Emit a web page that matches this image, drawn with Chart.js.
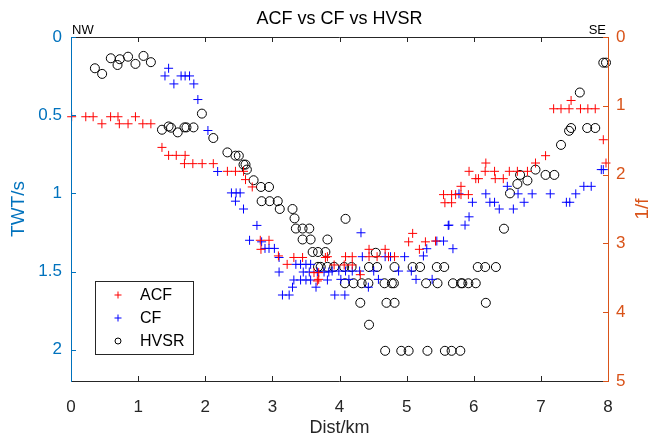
<!DOCTYPE html>
<html>
<head>
<meta charset="utf-8">
<script src="https://cdn.jsdelivr.net/npm/chart.js@4.4.0/dist/chart.umd.min.js"></script>
<style>
  body { margin: 0; background: #fff; }
  #wrap { width: 654px; height: 438px; }
</style>
</head>
<body>
<div id="wrap"><canvas id="chart" width="654" height="438"></canvas></div>
<script>
// distance along profile (km) and two-way time (s)
const acfX = [0.01, 0.22, 0.33, 0.59, 0.70, 0.96, 0.46, 0.72, 0.85, 1.07, 1.19, 1.355,
  1.454, 1.568, 1.70, 1.69, 1.815, 1.954, 2.12, 2.33, 2.45, 2.57, 2.60, 2.70,
  2.82, 2.95, 2.83, 3.09, 3.32, 3.45, 3.79, 3.22, 3.62, 3.69, 3.67,
  5.09, 5.03, 5.28, 5.19, 5.43, 5.57, 5.67, 4.44, 4.68,
  3.82, 4.09, 4.19, 4.44, 4.56, 4.73, 4.82, 3.92, 4.07, 4.19, 4.31, 3.69,
  7.19, 7.30, 7.42, 7.59, 7.70, 7.81, 7.45, 7.93, 7.07, 6.92, 7.97,
  5.93, 6.17, 6.31, 6.53, 6.65, 6.80, 6.18, 6.03, 6.07, 6.32, 6.44, 5.81,
  5.55, 5.67, 5.73, 5.81, 5.92];
const acfY = [0.51, 0.51, 0.51, 0.51, 0.51, 0.51, 0.555, 0.555, 0.555, 0.555, 0.555, 0.706,
  0.757, 0.757, 0.757, 0.81, 0.81, 0.81, 0.81, 0.859, 0.859, 0.859, 0.912, 0.959,
  1.30, 1.30, 1.358, 1.40, 1.41, 1.41, 1.41, 1.454, 1.507, 1.507, 1.56,
  1.256, 1.31, 1.31, 1.358, 1.305, 1.06, 1.06, 1.358, 1.358,
  1.405, 1.405, 1.405, 1.405, 1.405, 1.405, 1.405, 1.458, 1.458, 1.458, 1.52, 1.55,
  0.459, 0.459, 0.459, 0.459, 0.459, 0.459, 0.406, 0.657, 0.759, 0.806, 0.806,
  0.859, 0.859, 0.859, 0.859, 0.859, 0.859, 0.806, 0.906, 0.906, 0.906, 0.906, 0.955,
  1.008, 1.008, 1.008, 1.008, 1.008];

const cfX = [1.454, 1.40, 1.533, 1.64, 1.70, 1.766, 1.83, 1.89, 2.04, 2.185,
  2.39, 2.46, 2.52, 2.45, 2.57, 2.77, 2.66, 2.84, 2.89, 2.95, 3.03, 3.10,
  3.35, 3.42, 3.50, 3.57, 3.10, 3.46, 3.55, 3.67, 3.77, 3.84,
  3.32, 3.42, 3.50, 3.57, 3.82, 3.30, 3.65, 3.15, 3.25, 3.93,
  4.32, 5.62, 4.34, 4.68, 4.76, 4.97,
  3.89, 3.99, 4.09, 4.19, 4.30, 4.51, 4.88, 5.07,
  4.02, 4.14, 4.58, 5.14, 5.38, 4.43, 4.08,
  5.25, 5.30, 5.45, 5.55, 5.69,
  5.98, 6.24, 6.31, 6.75, 7.38, 7.43, 6.38, 6.59, 5.93, 5.63, 5.87,
  7.90, 7.93, 7.64, 7.75, 7.52, 6.50, 5.78, 6.18, 6.66, 6.87, 7.14];
const cfY = [0.20, 0.249, 0.30, 0.249, 0.249, 0.249, 0.30, 0.40, 0.598, 0.86,
  0.997, 0.997, 0.997, 1.05, 1.10, 1.205, 1.30, 1.31, 1.352, 1.352, 1.352, 1.41,
  1.454, 1.454, 1.454, 1.454, 1.503, 1.503, 1.503, 1.503, 1.503, 1.503,
  1.554, 1.554, 1.554, 1.554, 1.554, 1.60, 1.60, 1.65, 1.65, 1.65,
  1.252, 1.205, 1.405, 1.405, 1.405, 1.405,
  1.497, 1.497, 1.497, 1.497, 1.497, 1.497, 1.497, 1.497,
  1.55, 1.55, 1.55, 1.55, 1.55, 1.60, 1.65,
  1.40, 1.354, 1.305, 1.305, 1.354,
  1.057, 1.057, 1.057, 1.057, 1.057, 1.057, 1.10, 1.10, 1.15, 1.203, 1.203,
  0.848, 0.848, 0.955, 0.955, 1.003, 0.955, 1.003, 1.003, 1.003, 1.003, 1.003];

const hvsrX = [0.356, 0.464, 0.593, 0.693, 0.727, 0.85, 0.96, 1.08, 1.19,
  1.95, 1.355, 1.454, 1.49, 1.59, 1.69, 1.72, 1.825, 2.12,
  2.33, 2.45, 2.50, 2.57, 2.60, 2.62, 2.72, 2.83, 2.95,
  2.84, 2.96, 3.08, 3.11, 3.30, 3.33, 3.35, 3.45, 3.55,
  3.45, 3.57, 3.82, 3.60, 3.68, 3.79, 3.68, 3.72, 3.82, 3.92,
  4.09, 4.54, 4.07, 4.18, 4.44, 4.56, 4.82, 5.09, 5.20, 5.45, 5.56,
  4.08, 4.21, 4.33, 4.43, 4.67, 4.78, 4.81, 5.29, 5.46, 5.69,
  4.31, 4.70, 4.82, 4.44, 4.68, 4.92, 5.03, 5.31, 5.57, 5.67,
  6.45, 6.06, 6.17, 6.33, 5.81, 5.83, 5.92, 6.03, 6.18, 5.80,
  7.93, 7.97, 7.58, 7.42, 7.45, 7.69, 7.81, 7.30, 6.92, 6.69, 6.65, 7.07, 7.20, 6.80, 6.54];
const hvsrY = [0.20, 0.236, 0.136, 0.179, 0.142, 0.126, 0.172, 0.121, 0.161,
  0.49, 0.593, 0.572, 0.58, 0.61, 0.578, 0.578, 0.578, 0.646,
  0.738, 0.759, 0.759, 0.816, 0.816, 0.848, 0.916, 0.959, 0.959,
  1.05, 1.05, 1.05, 1.10, 1.10, 1.16, 1.225, 1.225, 1.225,
  1.295, 1.295, 1.295, 1.375, 1.375, 1.375, 1.47, 1.47, 1.47, 1.47,
  1.163, 1.38, 1.471, 1.471, 1.471, 1.471, 1.471, 1.471, 1.471, 1.471, 1.471,
  1.575, 1.575, 1.575, 1.575, 1.575, 1.575, 1.575, 1.575, 1.575, 1.575,
  1.70, 1.70, 1.70, 1.84, 2.007, 2.007, 2.007, 2.007, 2.007, 2.007,
  1.226, 1.471, 1.471, 1.471, 1.575, 1.575, 1.575, 1.575, 1.70, 2.007,
  0.164, 0.164, 0.355, 0.60, 0.582, 0.582, 0.582, 0.69, 0.848, 0.882, 0.94, 0.882, 0.882, 0.918, 1.00];

const distTicks = [0, 1, 2, 3, 4, 5, 6, 7, 8];
const twtTicks = [0, 0.5, 1, 1.5, 2];
const freqTicks = [0, 1, 2, 3, 4, 5];

const BLUE = '#0072BD';
const ORANGE = '#D95319';
const DARK = '#262626';
const FONT = '"Liberation Sans", Arial, sans-serif';

const toPoints = (xs, ys) => xs.map((x, i) => ({ x: x, y: ys[i] }));

// frame, inward ticks, titles and the boxed legend
const decorations = {
  id: 'decorations',
  afterDatasetsDraw(chart) {
    const ctx = chart.ctx;
    const a = chart.chartArea;
    const xs = chart.scales.x, ys = chart.scales.y, ys1 = chart.scales.y1;
    const tick = 5;
    ctx.save();
    ctx.lineWidth = 1;

    // top + bottom edges
    ctx.strokeStyle = DARK;
    ctx.beginPath();
    ctx.moveTo(a.left, a.top + 0.5); ctx.lineTo(a.right, a.top + 0.5);
    ctx.moveTo(a.left, a.bottom + 0.5); ctx.lineTo(a.right, a.bottom + 0.5);
    distTicks.forEach(v => {
      const px = Math.round(xs.getPixelForValue(v)) + 0.5;
      ctx.moveTo(px, a.bottom); ctx.lineTo(px, a.bottom - tick);
      ctx.moveTo(px, a.top); ctx.lineTo(px, a.top + tick);
    });
    ctx.stroke();

    ctx.strokeStyle = BLUE;
    ctx.beginPath();
    ctx.moveTo(a.left + 0.5, a.top); ctx.lineTo(a.left + 0.5, a.bottom + 1);
    twtTicks.forEach(v => {
      const py = Math.round(ys.getPixelForValue(v)) + 0.5;
      ctx.moveTo(a.left, py); ctx.lineTo(a.left + tick, py);
    });
    ctx.stroke();

    ctx.strokeStyle = ORANGE;
    ctx.beginPath();
    ctx.moveTo(a.right + 0.5, a.top); ctx.lineTo(a.right + 0.5, a.bottom + 1);
    freqTicks.forEach(v => {
      const py = Math.round(ys1.getPixelForValue(v)) + 0.5;
      ctx.moveTo(a.right, py); ctx.lineTo(a.right - tick, py);
    });
    ctx.stroke();

    // titles
    ctx.fillStyle = '#000';
    ctx.font = '18px ' + FONT;
    ctx.textAlign = 'center';
    ctx.textBaseline = 'middle';
    ctx.fillText('ACF vs CF vs HVSR', (a.left + a.right) / 2, 19);

    ctx.font = '13px ' + FONT;
    ctx.textBaseline = 'alphabetic';
    ctx.textAlign = 'left';
    ctx.fillText('NW', a.left + 1, a.top - 3);
    ctx.textAlign = 'right';
    ctx.fillText('SE', a.right - 2, a.top - 3);

    ctx.fillStyle = DARK;
    ctx.font = '18px ' + FONT;
    ctx.textAlign = 'center';
    ctx.textBaseline = 'middle';
    ctx.fillText('Dist/km', (a.left + a.right) / 2, 428);

    ctx.font = '19px ' + FONT;
    ctx.save();
    ctx.translate(19, (a.top + a.bottom) / 2);
    ctx.rotate(-Math.PI / 2);
    ctx.fillStyle = BLUE;
    ctx.fillText('TWT/s', 0, 0);
    ctx.restore();
    ctx.save();
    ctx.translate(643, (a.top + a.bottom) / 2);
    ctx.rotate(-Math.PI / 2);
    ctx.fillStyle = ORANGE;
    ctx.fillText('1/f', 0, 0);
    ctx.restore();

    // legend
    const lx = 95, ly = 281, lw = 98, lh = 73;
    ctx.fillStyle = '#fff';
    ctx.fillRect(lx, ly, lw, lh);
    ctx.strokeStyle = DARK;
    ctx.strokeRect(lx + 0.5, ly + 0.5, lw, lh);
    const items = chart.data.datasets;
    items.forEach((ds, i) => {
      const cy = ly + 14 + i * 23;
      const cx = lx + 23;
      ctx.strokeStyle = ds.borderColor;
      ctx.beginPath();
      if (ds.pointStyle === 'cross') {
        ctx.moveTo(cx - 3.5, cy); ctx.lineTo(cx + 3.5, cy);
        ctx.moveTo(cx, cy - 3.5); ctx.lineTo(cx, cy + 3.5);
      } else {
        ctx.arc(cx, cy, 3, 0, Math.PI * 2);
      }
      ctx.stroke();
      ctx.fillStyle = '#000';
      ctx.font = '16px ' + FONT;
      ctx.textAlign = 'left';
      ctx.textBaseline = 'middle';
      ctx.fillText(ds.label, lx + 45, cy + 1);
    });
    ctx.restore();
  }
};

new Chart(document.getElementById('chart'), {
  type: 'scatter',
  data: {
    datasets: [
      { label: 'ACF', data: toPoints(acfX, acfY), pointStyle: 'cross', radius: 4.5,
        borderColor: '#ff0000', backgroundColor: '#ff0000', borderWidth: 1, clip: false },
      { label: 'CF', data: toPoints(cfX, cfY), pointStyle: 'cross', radius: 4.5,
        borderColor: '#0000ff', backgroundColor: '#0000ff', borderWidth: 1, clip: false },
      { label: 'HVSR', data: toPoints(hvsrX, hvsrY), pointStyle: 'circle', radius: 4.5,
        borderColor: '#000000', backgroundColor: 'rgba(0,0,0,0)', borderWidth: 1, clip: false }
    ]
  },
  options: {
    responsive: false,
    animation: false,
    devicePixelRatio: 1,
    layout: { padding: { top: 37, left: 0, right: 0, bottom: 0 } },
    plugins: { legend: { display: false }, tooltip: { enabled: false } },
    scales: {
      x: {
        type: 'linear', min: 0, max: 8,
        grid: { display: false }, border: { display: false },
        afterBuildTicks: s => { s.ticks = distTicks.map(v => ({ value: v })); },
        afterFit: s => { s.height = 57; },
        ticks: { color: DARK, font: { family: FONT, size: 17 }, padding: 8, maxRotation: 0,
          callback: v => String(v) }
      },
      y: {
        type: 'linear', position: 'left', reverse: true, min: 0, max: 2.2,
        grid: { display: false }, border: { display: false },
        afterBuildTicks: s => { s.ticks = twtTicks.map(v => ({ value: v })); },
        afterFit: s => { s.width = 71; },
        ticks: { color: BLUE, font: { family: FONT, size: 17 }, padding: 1,
          callback: v => String(v) }
      },
      y1: {
        type: 'linear', position: 'right', reverse: true, min: 0, max: 5,
        grid: { display: false }, border: { display: false },
        afterBuildTicks: s => { s.ticks = freqTicks.map(v => ({ value: v })); },
        afterFit: s => { s.width = 46; },
        ticks: { color: ORANGE, font: { family: FONT, size: 17 }, padding: 0,
          callback: v => String(v) }
      }
    }
  },
  plugins: [decorations]
});
</script>
</body>
</html>
